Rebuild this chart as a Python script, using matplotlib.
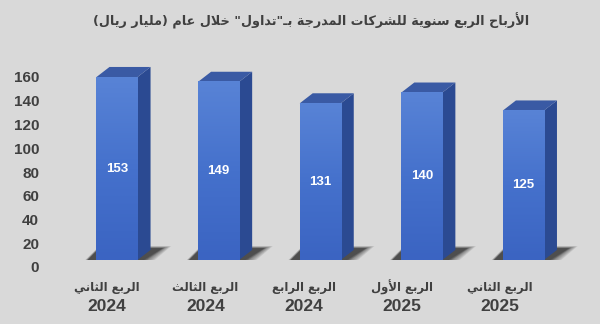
import numpy as np
import matplotlib.pyplot as plt
from matplotlib.patches import Polygon
from matplotlib.colors import LinearSegmentedColormap

# data
quarters = ["الربع الثاني", "الربع الثالث", "الربع الرابع", "الربع الأول", "الربع الثاني"]
years = ["2024", "2024", "2024", "2025", "2025"]
profits = [153, 149, 131, 140, 125]
title = 'الأرباح الربع سنوية للشركات المدرجة بـ"تداول" خلال عام (مليار ريال)'
yticks = [0, 20, 40, 60, 80, 100, 120, 140, 160]

# arabic shaping (matplotlib has no shaping engine): isolated, final, initial, medial
FORMS = {
    'ا': ('\uFE8D', '\uFE8E', None, None),
    'أ': ('\uFE83', '\uFE84', None, None),
    'ب': ('\uFE8F', '\uFE90', '\uFE91', '\uFE92'),
    'ة': ('\uFE93', '\uFE94', None, None),
    'ت': ('\uFE95', '\uFE96', '\uFE97', '\uFE98'),
    'ث': ('\uFE99', '\uFE9A', '\uFE9B', '\uFE9C'),
    'ج': ('\uFE9D', '\uFE9E', '\uFE9F', '\uFEA0'),
    'ح': ('\uFEA1', '\uFEA2', '\uFEA3', '\uFEA4'),
    'خ': ('\uFEA5', '\uFEA6', '\uFEA7', '\uFEA8'),
    'د': ('\uFEA9', '\uFEAA', None, None),
    'ر': ('\uFEAD', '\uFEAE', None, None),
    'س': ('\uFEB1', '\uFEB2', '\uFEB3', '\uFEB4'),
    'ش': ('\uFEB5', '\uFEB6', '\uFEB7', '\uFEB8'),
    'ع': ('\uFEC9', '\uFECA', '\uFECB', '\uFECC'),
    'ك': ('\uFED9', '\uFEDA', '\uFEDB', '\uFEDC'),
    'ل': ('\uFEDD', '\uFEDE', '\uFEDF', '\uFEE0'),
    'م': ('\uFEE1', '\uFEE2', '\uFEE3', '\uFEE4'),
    'ن': ('\uFEE5', '\uFEE6', '\uFEE7', '\uFEE8'),
    'و': ('\uFEED', '\uFEEE', None, None),
    'ي': ('\uFEF1', '\uFEF2', '\uFEF3', '\uFEF4'),
}
LAM_ALEF = {'ا': ('\uFEFB', '\uFEFC'), 'أ': ('\uFEF7', '\uFEF8')}
TATWEEL = '\u0640'


def joins_next(c):
    return c == TATWEEL or (c in FORMS and FORMS[c][2] is not None)


def is_arabic(c):
    return c in FORMS or c == TATWEEL


def shape(text):
    out = []
    i = 0
    while i < len(text):
        c = text[i]
        prev = text[i - 1] if i > 0 else ''
        nxt = text[i + 1] if i + 1 < len(text) else ''
        if c == 'ل' and nxt in LAM_ALEF:
            iso, fin = LAM_ALEF[nxt]
            out.append(fin if joins_next(prev) else iso)
            i += 2
            continue
        if c in FORMS:
            iso, fin, ini, med = FORMS[c]
            p = joins_next(prev)
            n = ini is not None and is_arabic(nxt)
            if p and n:
                out.append(med)
            elif p:
                out.append(fin)
            elif n:
                out.append(ini)
            else:
                out.append(iso)
        else:
            out.append(c)
        i += 1
    return ''.join(reversed(out)).translate(str.maketrans('()', ')('))


BG = '#d9d9d9'
TXT = '#404040'
plt.rcParams['font.family'] = ['Liberation Sans', 'DejaVu Sans']

fig = plt.figure(figsize=(6, 3.24), dpi=100, facecolor=BG)
W, H = 600, 324

# back wall axes: tick labels and category labels
ax_floor = fig.add_axes([46.1 / W, 57 / H, 512.9 / W, 175 * 1.1875 / H])
ax_floor.set_facecolor('none')
ax_floor.set_xlim(-0.62, 4.6)
ax_floor.set_ylim(0, 175)
ax_floor.set_yticks(yticks)
ax_floor.tick_params(axis='y', length=0, pad=5, labelsize=11, labelcolor=TXT)
for lab in ax_floor.get_yticklabels():
    lab.set_fontweight('bold')
ax_floor.set_xticks([])
for s in ax_floor.spines.values():
    s.set_visible(False)

xpos = np.arange(len(profits))
for x, q, yr in zip(xpos, quarters, years):
    ax_floor.text(x, -17, shape(q), ha='center', va='center', fontsize=8.4,
                  fontweight='bold', color=TXT, family=['DejaVu Sans'], clip_on=False)
    ax_floor.text(x, -33.5, yr, ha='center', va='center', fontsize=12.5,
                  fontweight='bold', color=TXT, clip_on=False)

# bar axes (front faces)
ax = fig.add_axes([45.9 / W, 64 / H, 538.5 / W, 175 * 1.196 / H])
ax.set_facecolor('none')
ax.set_axis_off()

bw = 0.404
dx, dy = 0.128, 8.4
front_cmap = LinearSegmentedColormap.from_list('front', ['#3b64c2', '#4571cc', '#5883d6'])
grad = np.linspace(0, 1, 100).reshape(-1, 1)

for x, v in zip(xpos, profits):
    xl, xr = x - bw / 2, x + bw / 2
    # soft shadow on the floor
    for k in range(8):
        e = 0.012 * k
        ax.add_patch(Polygon([(xl - 0.1 - 0.6 * e, -1.2 - k * 0.3), (xr + 0.04 + e, -1.2 - k * 0.3),
                              (xr + dx + 0.12 + e, dy + 1.5 + k * 0.25), (xl + dx - 0.1, dy + 1.5 + k * 0.25)],
                             closed=True, facecolor='#111111', edgecolor='none',
                             alpha=0.2 if k < 3 else 0.09, zorder=1))
    # side face
    ax.add_patch(Polygon([(xr, 0), (xr + dx, dy), (xr + dx, v + dy), (xr, v)],
                         closed=True, facecolor='#2b4a92', edgecolor='none', zorder=2))
    # top face
    ax.add_patch(Polygon([(xl, v), (xl + dx, v + dy), (xr + dx, v + dy), (xr, v)],
                         closed=True, facecolor='#3a5aa4', edgecolor='none', zorder=2))
    # front face with vertical gradient
    ax.imshow(grad, extent=(xl, xr, 0, v), origin='lower', cmap=front_cmap,
              aspect='auto', zorder=3, interpolation='bilinear')
    ax.text(x, v / 2, str(v), ha='center', va='center', color='white',
            fontsize=9.5, fontweight='bold', zorder=4)

ax.set_xlim(-0.7, 4.6)
ax.set_ylim(0, 175)

fig.text(311 / W, 1 - 21 / H, shape(title), ha='center', va='center', fontsize=9.2,
         fontweight='bold', color=TXT, family=['DejaVu Sans'])

fig.savefig('out.png', dpi=100, facecolor=BG)
